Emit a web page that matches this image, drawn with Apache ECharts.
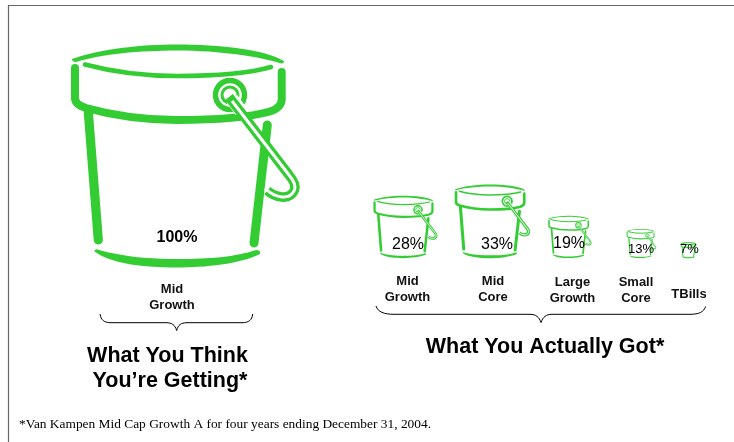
<!DOCTYPE html>
<html>
<head>
<meta charset="utf-8">
<style>html,body{margin:0;padding:0;background:#fff}#chart{width:734px;height:442px}</style>
<script src="https://cdn.jsdelivr.net/npm/echarts@6/dist/echarts.min.js"></script>
</head>
<body>
<div id="chart"></div>
<script>
// Allocation shares, in percent
const thinkCategories = ['Mid\nGrowth'];
const thinkShares = [100];
const gotCategories = ['Mid\nGrowth', 'Mid\nCore', 'Large\nGrowth', 'Small\nCore', 'TBills'];
const gotShares = [28, 33, 19, 13, 7];

const GREEN = '#33cc33';

// Page layout per bucket, in the order think + got
const slotX = [185.5, 405.5, 492.5, 570, 641.5, 689];
const slotBase = [267, 258, 258, 258, 258, 258];
const shareX = [177, 408, 497, 569, 641, 689.5];
const shareY = [238, 245, 245, 244, 249, 249];
const shareFont = ['bold 16px', '16px', '16px', '16px', '13px', '13px'];
const nameX = [172, 407.5, 493, 572.5, 636, 689];
const nameY = [281, 273, 273, 274, 274, 286];

// Bucket outline, drawn at full size around its bottom-centre anchor (185.5, 267)
const fillParts = [
  'M72,59 C100,49 140,44.5 177,44.5 C220,44.5 265,49.5 284,61 Q284,63.5 281,63.5 C262,57 220,50.5 177,50.5 C140,50.5 102,54 76,62 Q72,62 72,59 Z'
];
const bottomFill = 'M94,251 Q96,248 99,250 C125,257 150,259 177,259 C210,259 235,257 256,250 Q261,250 260,254 C240,264 205,267.5 177,267.5 C145,267.5 110,264 94,251 Z';
fillParts.push(bottomFill);
const strokeParts = [
  { d: 'M75,68 L75,99 Q76,105 86,108 C115,116 150,120 177,120 C215,120 250,117 270,111.5 Q281,108 281.7,100 L281.7,72', w: 8 },
  { d: 'M85,64.5 C115,72.5 145,76 177,76 C215,76 250,73 271,67', w: 4.6 },
  { d: 'M88.3,112 L98.3,240', w: 9.2 },
  { d: 'M267.3,125 L254,243', w: 9 }
];
const handlePath = 'M229,97 L289,175 C294,181 296,186 294.5,190 C292,196 287,197.5 281.7,197 C276,196.5 271,194 267.3,190.7';
const handleCore = 'M232,101 L289,175 C294,181 296,186 294.5,190 C292,196 287,197.5 281.7,197 C276,196.5 271,194 265,188.7';

// k is the drawing scale; very small buckets keep their outline at least a pixel wide
function bucketGlyph(k) {
  const children = [];
  strokeParts.forEach(p => children.push({
    type: 'path', shape: { pathData: p.d },
    style: { fill: null, stroke: GREEN, lineWidth: Math.max(p.w, 1 / k), lineCap: 'round', lineJoin: 'round' }
  }));
  fillParts.forEach(d => children.push({
    type: 'path', shape: { pathData: d },
    style: { fill: GREEN, stroke: GREEN, lineWidth: k < 0.1 ? 8 : 0 }
  }));
  // Grommet on the rim
  children.push({ type: 'circle', shape: { cx: 230, cy: 95, r: 14.5 }, style: { fill: '#fff', stroke: GREEN, lineWidth: 5.4 } });
  children.push({ type: 'circle', shape: { cx: 230, cy: 95, r: 8 }, style: { fill: '#fff', stroke: GREEN, lineWidth: 3 } });
  // Gap in the grommet where the handle leaves it
  children.push({ type: 'path', shape: { pathData: 'M232,99 L241,111' }, style: { fill: null, stroke: '#fff', lineWidth: 13 } });
  // Handle: a green strap with a white core
  children.push({ type: 'path', shape: { pathData: handlePath }, style: { fill: null, stroke: GREEN, lineWidth: 9.6, lineJoin: 'round' } });
  children.push({ type: 'path', shape: { pathData: handleCore }, style: { fill: null, stroke: '#fff', lineWidth: 3, lineJoin: 'round' } });
  return { type: 'group', x: -185.5, y: -267, children };
}

const categories = thinkCategories.concat(gotCategories);
const shares = thinkShares.concat(gotShares);
const seriesData = shares.map((s, i) => [slotX[i], slotBase[i], s, i]);

function renderBucket(params, api) {
  const i = api.value(3);
  const share = api.value(2);
  const anchor = api.coord([api.value(0), api.value(1)]);
  const k = share / 100;
  const shareAt = api.coord([shareX[i], shareY[i]]);
  const nameAt = api.coord([nameX[i], nameY[i]]);
  return {
    type: 'group',
    children: [
      { type: 'group', x: anchor[0], y: anchor[1], scaleX: k, scaleY: k, children: [bucketGlyph(k)] },
      { type: 'text', style: {
          text: share + '%', x: shareAt[0], y: shareAt[1],
          font: shareFont[i] + ' "Liberation Sans", Arial, sans-serif',
          fill: '#000', textAlign: 'center', textVerticalAlign: 'middle' } },
      { type: 'text', style: {
          text: categories[i], x: nameAt[0], y: nameAt[1], lineHeight: 16,
          font: 'bold 13px "Liberation Sans", Arial, sans-serif',
          fill: '#111', textAlign: 'center', textVerticalAlign: 'top' } }
    ]
  };
}

// Braces gathering each side's buckets
const bracePaths = [
  'M100,314 C101,320 104,322.7 111,322.7 L166,322.7 C172,322.7 175,325 176.7,330.5 C178,325 181,322.7 187,322.7 L242,322.7 C249,322.7 252,320 252.7,314',
  'M376,306 C378,312 384,314.3 394,314.3 L530,314.3 C536,314.3 539,317 541,322.5 C543,317 546,314.3 552,314.3 L690,314.3 C699,314.3 704,312 705.5,306.5'
];
function renderBrace(params, api) {
  return { type: 'path', shape: { pathData: bracePaths[api.value(0)] },
    style: { fill: null, stroke: '#000', lineWidth: 1 } };
}

function pageText(text, x, y, font, align) {
  return { type: 'text', silent: true, style: {
    text, x, y, font, fill: '#000', textAlign: align || 'center', textVerticalAlign: 'middle' } };
}

const TITLE_FONT = 'bold 21.5px "Liberation Sans", Arial, sans-serif';
const chart = echarts.init(document.getElementById('chart'), null, { renderer: 'canvas' });
chart.setOption({
  animation: false,
  backgroundColor: '#fff',
  grid: { left: 0, right: 0, top: 0, bottom: 0 },
  xAxis: { type: 'value', min: 0, max: 734, show: false },
  yAxis: { type: 'value', min: 0, max: 442, inverse: true, show: false },
  series: [
    { type: 'custom', coordinateSystem: 'cartesian2d', renderItem: renderBucket, data: seriesData, encode: { x: 0, y: 1 }, silent: true, clip: false },
    { type: 'custom', coordinateSystem: 'none', renderItem: renderBrace, data: [[0], [1]], silent: true }
  ],
  graphic: { elements: [
    { type: 'polyline', silent: true, shape: { points: [[8.5, 442], [8.5, 5.5], [734, 5.5]] },
      style: { fill: null, stroke: '#666', lineWidth: 1.2 } },
    pageText('What You Think', 167.5, 356, TITLE_FONT),
    pageText('You\u2019re Getting*', 170, 381, TITLE_FONT),
    pageText('What You Actually Got*', 545, 347, TITLE_FONT),
    pageText('*Van Kampen Mid Cap Growth A for four years ending December 31, 2004.', 19, 424, '13.4px "Liberation Serif", "Times New Roman", serif', 'left')
  ] }
});
</script>
</body>
</html>
